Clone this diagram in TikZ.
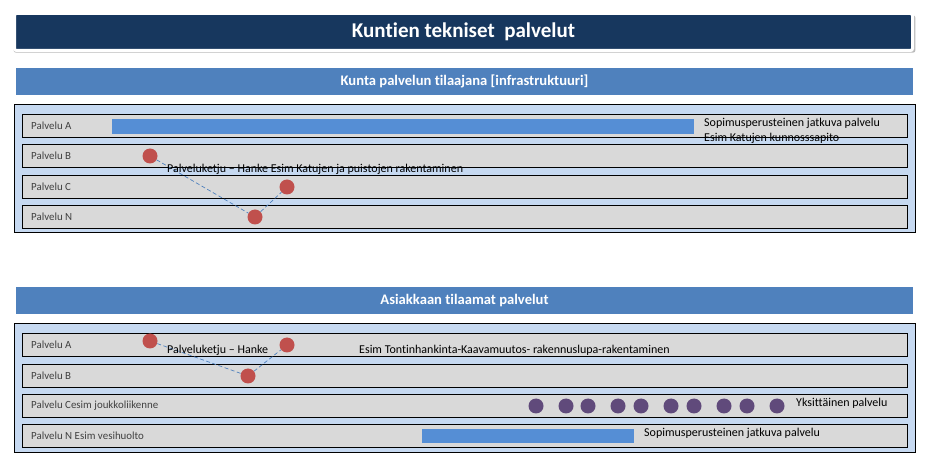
\documentclass[tikz,border=0pt]{standalone}
\usepackage{fontspec}
\setmainfont{Carlito}[Ligatures={NoCommon}]
\usetikzlibrary{positioning, shadows}

\definecolor{navy}{HTML}{17375E}
\definecolor{headblue}{HTML}{4F81BD}
\definecolor{panelblue}{HTML}{C6D9F1}
\definecolor{rowgray}{HTML}{D9D9D9}
\definecolor{barblue}{HTML}{558ED5}
\definecolor{dotred}{HTML}{C0504D}
\definecolor{dotpurple}{HTML}{604A7B}
\definecolor{labelgray}{HTML}{404040}

\tikzset{
  titlebox/.style={fill=navy, draw=white, line width=3pt, rounded corners=2pt,
    drop shadow={shadow xshift=1pt, shadow yshift=-2pt, shadow scale=1.004,
      fill=black!60, opacity=0.45},
    text=white, font=\bfseries\fontsize{21}{24}\selectfont,
    minimum width=898pt, minimum height=37pt, inner sep=0pt, outer sep=0pt},
  header/.style={fill=headblue, text=white, font=\bfseries\fontsize{14.6}{17}\selectfont,
    minimum width=897pt, minimum height=27pt, inner sep=0pt, outer sep=0pt},
  panel/.style={draw=black, line width=0.8pt, fill=panelblue, minimum width=901pt,
    inner sep=0pt, outer sep=0pt, anchor=north west},
  rowbox/.style={draw=black, line width=0.8pt, fill=rowgray, minimum width=885pt,
    minimum height=23pt, inner sep=0pt, outer sep=0pt, anchor=north west},
  rowlabel/.style={text=labelgray, font=\fontsize{10.9}{12}\selectfont, anchor=west, inner sep=0pt},
  bar/.style={fill=barblue, inner sep=0pt, outer sep=0pt, anchor=north west, minimum height=15pt},
  reddot/.style={circle, fill=dotred, minimum size=15pt, inner sep=0pt},
  purpledot/.style={circle, fill=dotpurple, minimum size=15pt, inner sep=0pt},
  note/.style={font=\fontsize{12}{14}\selectfont, anchor=west, inner sep=0pt},
  chain/.style={headblue, line width=0.7pt, dash pattern=on 4pt off 2.5pt}
}

\begin{document}
\begin{tikzpicture}[x=1pt, y=-1pt]
  \useasboundingbox (0,0) rectangle (927,454);

  % title
  \node[titlebox] (title) at (463.5,32) {Kuntien tekniset\ \ palvelut};

  % upper part
  \node[header] (head1) at (464.5,81.5) {Kunta palvelun tilaajana [infrastruktuuri]};
  \node[panel, minimum height=128pt] (panel1) at (14,104) {};
  \node[rowbox] (r1a) at (22,114) {};
  \node[rowbox] (r1b) at (22,144) {};
  \node[rowbox] (r1c) at (22,175) {};
  \node[rowbox] (r1n) at (22,205) {};
  \node[rowlabel] (l1a) at (31,125.5) {Palvelu A};
  \node[rowlabel] (l1b) at (31,155.5) {Palvelu B};
  \node[rowlabel] (l1c) at (31,186.5) {Palvelu C};
  \node[rowlabel] (l1n) at (31,216.5) {Palvelu N};

  \node[bar, minimum width=582pt] (bar1) at (112,119) {};
  \node[note] (sop1) at (704,123) {Sopimusperusteinen jatkuva palvelu};
  \node[note] (kunn) at (704,138) {Esim Katujen kunnosssapito};

  \node[reddot] (d1b) at (150,156) {};
  \node[reddot] (d1c) at (287,187) {};
  \node[reddot] (d1n) at (255,217) {};
  \draw[chain] (d1b) -- (d1n);
  \draw[chain] (d1n) -- (d1c);
  \node[note] (ketju1) at (167,169.5) {Palveluketju – Hanke Esim Katujen ja puistojen rakentaminen};

  % lower part
  \node[header] (head2) at (464.5,300.5) {Asiakkaan tilaamat palvelut};
  \node[panel, minimum height=129pt] (panel2) at (14,323) {};
  \node[rowbox] (r2a) at (22,333) {};
  \node[rowbox] (r2b) at (22,364) {};
  \node[rowbox] (r2c) at (22,394) {};
  \node[rowbox] (r2n) at (22,424) {};
  \node[rowlabel] (l2a) at (31,344.5) {Palvelu A};
  \node[rowlabel] (l2b) at (31,375.5) {Palvelu B};
  \node[rowlabel] (l2c) at (31,405.5) {Palvelu Cesim joukkoliikenne};
  \node[rowlabel] (l2n) at (31,435.5) {Palvelu N Esim vesihuolto};

  \node[reddot] (d2a) at (150,341) {};
  \node[reddot] (d2c) at (287,345) {};
  \node[reddot] (d2b) at (248,376) {};
  \draw[chain] (d2a) -- (d2b);
  \draw[chain] (d2b) -- (d2c);
  \node[note] (ketju2) at (167,350) {Palveluketju – Hanke};
  \node[note] (tontti) at (359,350) {Esim Tontinhankinta-Kaavamuutos- rakennuslupa-rakentaminen};

  \foreach \x [count=\i] in {536,566,588,618,641,671,694,724,747,777}
    \node[purpledot] (p\i) at (\x,406) {};
  \node[note] (yksi) at (796,403) {Yksittäinen palvelu};

  \node[bar, minimum width=212pt, minimum height=14pt] (bar2) at (422,429) {};
  \node[note] (sop2) at (644,433) {Sopimusperusteinen jatkuva palvelu};
\end{tikzpicture}
\end{document}
